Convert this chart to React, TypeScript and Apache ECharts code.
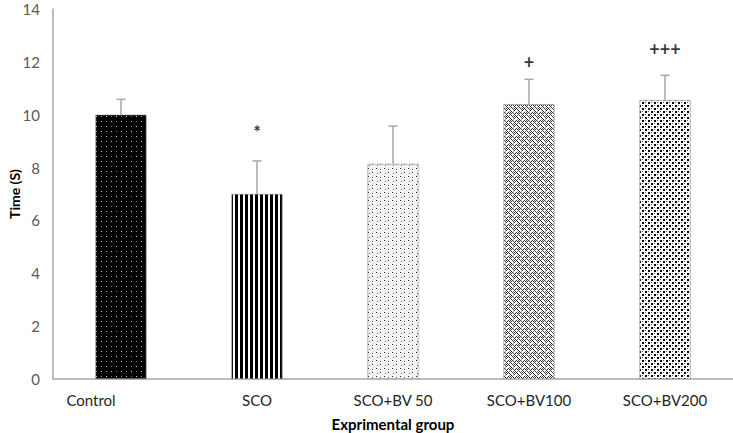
import React, { useEffect, useRef } from "react";
import * as echarts from "echarts";

const categories = ["Control", "SCO", "SCO+BV 50", "SCO+BV100", "SCO+BV200"];
const means = [10.0, 7.0, 8.14, 10.4, 10.55];
const errors = [0.58, 1.25, 1.43, 0.94, 0.94];
const marks = ["", "*", "", "+", "+++"];
const markHeights = [0, 9.36, 0, 11.98, 12.5];
const yTicks = { min: 0, max: 14, interval: 2 };

function makeCanvas(w: number, h: number, bg: string) {
  const c = document.createElement("canvas");
  c.width = w;
  c.height = h;
  const ctx = c.getContext("2d")!;
  ctx.fillStyle = bg;
  ctx.fillRect(0, 0, w, h);
  return { c, ctx };
}

function patternFor(i: number): any {
  if (i === 0) {
    const { c, ctx } = makeCanvas(10, 10, "#000");
    ctx.fillStyle = "#d8d8d8";
    ctx.fillRect(1, 1, 1, 1);
    ctx.fillRect(6, 6, 1, 1);
    ctx.fillStyle = "#808080";
    ctx.fillRect(6, 1, 1, 1);
    ctx.fillRect(1, 6, 1, 1);
    return { image: c, repeat: "repeat" };
  }
  if (i === 1) {
    const { c, ctx } = makeCanvas(5, 5, "#fff");
    ctx.fillStyle = "#000";
    ctx.fillRect(0, 0, 3, 5);
    return { image: c, repeat: "repeat" };
  }
  if (i === 2) {
    const { c, ctx } = makeCanvas(8, 8, "#f2f2f2");
    ctx.fillStyle = "#222";
    ctx.fillRect(0, 0, 1, 1);
    ctx.fillRect(4, 4, 1, 1);
    ctx.fillStyle = "#666";
    ctx.fillRect(4, 1, 1, 1);
    ctx.fillRect(1, 5, 1, 1);
    return { image: c, repeat: "repeat" };
  }
  if (i === 3) {
    const { c, ctx } = makeCanvas(8, 8, "#ffffff");
    ctx.fillStyle = "#333";
    const px = [
      [0, 0], [1, 1], [2, 2], [3, 1], [4, 0], [5, 1], [6, 2], [7, 3],
      [0, 4], [1, 5], [2, 6], [3, 5], [4, 4], [5, 5], [6, 6], [7, 7],
      [3, 3], [2, 4], [7, 1], [6, 0],
    ];
    px.forEach(([x, y]) => ctx.fillRect(x, y, 1, 1));
    ctx.fillStyle = "#999";
    [[1, 3], [5, 3], [1, 7], [5, 7]].forEach(([x, y]) => ctx.fillRect(x, y, 1, 1));
    return { image: c, repeat: "repeat" };
  }
  const { c, ctx } = makeCanvas(6, 6, "#fff");
  ctx.fillStyle = "#000";
  ctx.fillRect(0, 0, 2, 2);
  ctx.fillRect(3, 3, 2, 2);
  ctx.fillStyle = "#555";
  ctx.fillRect(3, 0, 1, 1);
  ctx.fillRect(0, 3, 1, 1);
  return { image: c, repeat: "repeat" };
}

export default function App() {
  const ref = useRef<HTMLDivElement>(null);
  useEffect(() => {
    if (!ref.current) return;
    const chart = echarts.init(ref.current, null, { renderer: "svg" });
    const font = "Lato, 'Open Sans', sans-serif";
    chart.setOption({
      animation: false,
      backgroundColor: "#fff",
      grid: { left: 53, right: 0, top: 9, bottom: 54, containLabel: false, outerBoundsMode: "none" },
      xAxis: {
        type: "category",
        data: categories.map((c, i) =>
          i === 0 ? { value: c, textStyle: { padding: [0, 60, 0, 0] } } : c
        ),
        name: "Exprimental group",
        nameLocation: "middle",
        nameGap: 37,
        nameMoveOverlap: false,
        nameTextStyle: { fontFamily: font, fontSize: 15, fontWeight: "bold", color: "#000" },
        axisLine: { lineStyle: { color: "#a6a6a6", width: 1.5 } },
        axisTick: { show: false },
        axisLabel: { fontFamily: font, fontSize: 15, color: "#262626", margin: 13 },
      },
      yAxis: {
        type: "value",
        min: yTicks.min,
        max: yTicks.max,
        interval: yTicks.interval,
        name: "Time (S)",
        nameLocation: "middle",
        nameGap: 32,
        nameMoveOverlap: false,
        nameTextStyle: { fontFamily: font, fontSize: 14, fontWeight: "bold", color: "#000" },
        axisLine: { show: true, lineStyle: { color: "#a6a6a6", width: 1.5 } },
        axisTick: { show: false },
        splitLine: { show: false },
        axisLabel: { fontFamily: font, fontSize: 15, color: "#595959", margin: 13 },
      },
      series: [
        {
          type: "bar",
          barWidth: 51,
          data: means.map((v, i) => ({
            value: v,
            itemStyle: { color: patternFor(i), borderColor: "#8c8c8c", borderWidth: 0.6 },
          })),
        },
        {
          type: "custom",
          data: means.map((v, i) => [i, v, v + errors[i]]),
          renderItem: (params: any, api: any) => {
            const x = api.value(0);
            const p0 = api.coord([x, api.value(1)]);
            const p1 = api.coord([x, api.value(2)]);
            const style = { stroke: "#a6a6a6", lineWidth: 1.5 };
            return {
              type: "group",
              children: [
                { type: "line", shape: { x1: p0[0], y1: p0[1], x2: p1[0], y2: p1[1] }, style },
                { type: "line", shape: { x1: p1[0] - 4.5, y1: p1[1], x2: p1[0] + 4.5, y2: p1[1] }, style },
              ],
            };
          },
          z: 5,
        },
        {
          type: "scatter",
          symbolSize: 0,
          data: markHeights
            .map((h, i) => ({ value: [i, h], m: marks[i] }))
            .filter((d) => d.m !== ""),
          label: {
            show: true,
            position: "inside",
            formatter: (p: any) => p.data.m,
            fontFamily: font,
            fontSize: 18,
            fontWeight: "bold",
            color: "#000",
          },
        },
      ],
    });
    return () => chart.dispose();
  }, []);
  return <div ref={ref} style={{ width: 733, height: 433, position: "absolute", left: 0, top: 0 }} />;
}
